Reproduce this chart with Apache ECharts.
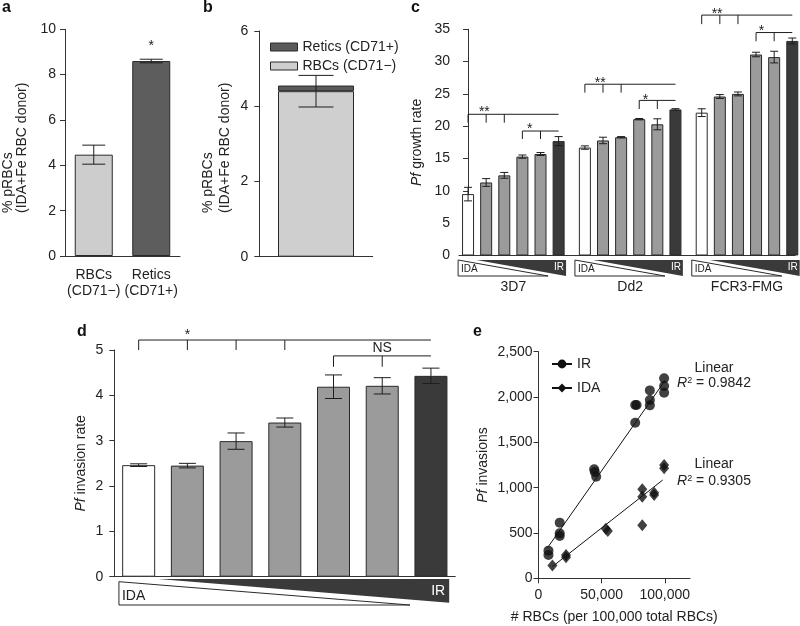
<!DOCTYPE html>
<html>
<head>
<meta charset="utf-8">
<script src="https://cdn.jsdelivr.net/npm/echarts@6/dist/echarts.min.js"></script>
<style>
  html, body { margin: 0; padding: 0; background: #fff; }
  #main { width: 800px; height: 626px; }
</style>
</head>
<body>
<div id="main"></div>
<script>
// ---- panel a: pRBCs by cell type
var aCats = ['RBCs\n(CD71\u2212)', 'Retics\n(CD71+)'];
var aVals = [4.47, 8.6];
var aErr = [0.42, 0.08];

// ---- panel b: stacked share of one donor
var bCats = ['IDA+Fe'];
var bRbc = [4.4];
var bRetic = [0.15];
var bErr = [0.42];

// ---- panel c: growth rate, 3 strains x 6 blends (IDA -> IR)
var cGroups = ['3D7', 'Dd2', 'FCR3-FMG'];
var cVals = [
  [9.5, 11.3, 12.4, 15.3, 15.7, 17.7],
  [16.7, 17.8, 18.3, 21.1, 20.3, 22.6],
  [22.1, 24.6, 25.0, 31.1, 30.7, 33.2]
];
var cErr = [
  [1.05, 0.6, 0.45, 0.25, 0.23, 0.7],
  [0.26, 0.5, 0.1, 0.1, 0.85, 0.12],
  [0.6, 0.3, 0.3, 0.35, 0.9, 0.45]
];

// ---- panel d: invasion rate, 7 blends (IDA -> IR)
var dCats = ['IDA', '2', '3', '4', '5', '6', 'IR'];
var dVals = [2.46, 2.45, 2.99, 3.4, 4.19, 4.21, 4.43];
var dErr = [0.03, 0.05, 0.18, 0.1, 0.26, 0.18, 0.17];

// ---- panel e: invasions vs number of RBCs
var irPts = [
  [7900, 305], [7900, 257], [16800, 614], [16800, 496], [16800, 467],
  [44100, 1202], [44600, 1173], [45700, 1121], [76600, 1912], [77700, 1912],
  [76600, 1717], [88200, 2073], [88200, 1967], [88200, 1908],
  [99500, 2206], [99500, 2121], [99500, 2048]
];
var idaPts = [
  [11000, 140], [21800, 257], [21800, 232], [53300, 548], [54900, 522],
  [82200, 982], [82200, 901], [82200, 585], [91600, 945], [91600, 919],
  [99500, 1250], [99500, 1213]
];
var irFit = [[6800, 330], [100500, 2187]];
var idaFit = [[11000, 129], [98400, 1084]];
var eXTicks = [0, 50000, 100000];

// significance brackets: [from, to, lineY, tickY, ticks]
var cBrackets = [
  [0, 5, 21.85, 20.55, [0, 1, 2]], [3, 5, 19.26, 18.03, [3, 4]],
  [0, 5, 26.5, 25.2, [0, 1, 2]], [3, 5, 24.0, 22.67, [3, 4]],
  [0, 5, 37.2, 35.8, [0, 1, 2]], [3, 5, 34.5, 33.15, [3, 4]]
];
var cMarks = [[0.9, 22.6, '**'], [3.4, 20.0, '*'], [0.85, 27.1, '**'], [3.35, 24.5, '*'], [0.85, 37.8, '**'], [3.3, 35.2, '*']];
var dBrackets = [[0, 6, 5.22, 5.0, [0, 1, 2, 3]], [4, 6, 4.87, 4.63, [4, 5]]];
var dMarks = [[1.42, 5.39, '*'], [4.56, 5.05, 'NS']];

var FONT = '"Liberation Sans", Arial, sans-serif';
var INK = '#222';
var AXIS = '#333';
var WHITE = '#ffffff', GRAY = '#9b9b9b', DARK = '#3a3a3a';
var GROUP_STEP = 6.45;   // x units between strain groups in panel c

function cx(g, i) { return g * GROUP_STEP + i; }
function shade(i, n) { return i === 0 ? WHITE : (i === n - 1 ? DARK : GRAY); }

function yAx(grid, max, interval, extra) {
  return Object.assign({
    type: 'value', gridIndex: grid, min: 0, max: max, interval: interval,
    axisLine: { show: true, lineStyle: { color: AXIS } },
    axisTick: { show: true, length: 5, lineStyle: { color: AXIS } },
    axisLabel: { color: INK, fontSize: 14, margin: 9 },
    splitLine: { show: false }
  }, extra || {});
}

function errorBars(axis, data, cap) {
  return {
    type: 'custom', xAxisIndex: axis, yAxisIndex: axis, z: 4, silent: true,
    data: data,
    renderItem: function (params, api) {
      var lo = api.coord([api.value(0), api.value(1)]);
      var hi = api.coord([api.value(0), api.value(2)]);
      var h = cap / 2;
      var st = { stroke: '#1e1e1e', lineWidth: 1 };
      return { type: 'group', children: [
        { type: 'line', shape: { x1: lo[0], y1: lo[1], x2: hi[0], y2: hi[1] }, style: st },
        { type: 'line', shape: { x1: lo[0] - h, y1: lo[1], x2: lo[0] + h, y2: lo[1] }, style: st },
        { type: 'line', shape: { x1: hi[0] - h, y1: hi[1], x2: hi[0] + h, y2: hi[1] }, style: st }
      ] };
    }
  };
}

function bracketSeries(axis, brackets, offset) {
  var segs = [];
  brackets.forEach(function (b, k) {
    var off = offset ? offset(k) : 0;
    segs.push([b[0] + off, b[2], b[1] + off, b[2]]);
    b[4].forEach(function (t) { segs.push([t + off, b[2], t + off, b[3]]); });
  });
  return {
    type: 'custom', xAxisIndex: axis, yAxisIndex: axis, z: 4, silent: true,
    data: segs,
    renderItem: function (params, api) {
      var p1 = api.coord([api.value(0), api.value(1)]);
      var p2 = api.coord([api.value(2), api.value(3)]);
      return { type: 'line', shape: { x1: p1[0], y1: p1[1], x2: p2[0], y2: p2[1] },
        style: { stroke: '#1e1e1e', lineWidth: 1 } };
    }
  };
}

function markSeries(axis, marks, offset) {
  return {
    type: 'custom', xAxisIndex: axis, yAxisIndex: axis, z: 4, silent: true,
    data: marks.map(function (m, k) { return [m[0] + (offset ? offset(k) : 0), m[1]]; }),
    renderItem: function (params, api) {
      var p = api.coord([api.value(0), api.value(1)]);
      var txt = marks[params.dataIndex][2];
      var star = txt.indexOf('*') >= 0;
      return { type: 'text', x: p[0], y: p[1] + (star ? 3 : 0),
        style: { text: txt, fill: INK, fontSize: 14, fontFamily: FONT, align: 'center', verticalAlign: 'middle' } };
    }
  };
}

// bars
var cBarData = [], cErrData = [];
cVals.forEach(function (vals, g) {
  vals.forEach(function (v, i) {
    cBarData.push({ value: [cx(g, i), v], itemStyle: { color: shade(i, vals.length) } });
    cErrData.push([cx(g, i), v - cErr[g][i], v + cErr[g][i]]);
  });
});
var dBarData = dVals.map(function (v, i) { return { value: v, itemStyle: { color: shade(i, dVals.length) } }; });
var dErrData = dVals.map(function (v, i) { return [i, v - dErr[i], v + dErr[i]]; });
var aBarData = aVals.map(function (v, i) { return { value: v, itemStyle: { color: ['#cdcdcd', '#5d5d5d'][i] } }; });
var aErrData = aVals.map(function (v, i) { return [i, v - aErr[i], v + aErr[i]]; });

var barBorder = { borderColor: '#2a2a2a', borderWidth: 1 };

function triText(x, y, txt, color, size, align, valign) {
  return { type: 'text', x: x, y: y, style: { text: txt, fill: color, fontSize: size, fontFamily: FONT, align: align, verticalAlign: valign } };
}

var option = {
  animation: false,
  textStyle: { fontFamily: FONT, color: INK },
  grid: [
    { left: 65, top: 29.3, width: 115, height: 226.7 },
    { left: 259.3, top: 31, width: 113.4, height: 225.7 },
    { left: 459, top: 29.3, width: 336, height: 226.2 },
    { left: 114.3, top: 350, width: 341, height: 226.7 },
    { left: 538.5, top: 351.7, width: 151.5, height: 226.6 }
  ],
  legend: [
    { data: ['Retics (CD71+)', 'RBCs (CD71\u2212)'], orient: 'vertical', left: 265, top: 35,
      icon: 'rect', itemWidth: 27, itemHeight: 8, itemGap: 5, selectedMode: false,
      itemStyle: { borderColor: '#2a2a2a', borderWidth: 1 },
      textStyle: { fontSize: 14, color: INK, fontFamily: FONT } },
    { data: ['IR', 'IDA'], orient: 'vertical', left: 546, top: 352,
      itemWidth: 20, itemHeight: 11, itemGap: 10, selectedMode: false,
      textStyle: { fontSize: 14, color: INK, fontFamily: FONT } }
  ],
  xAxis: [
    { type: 'category', gridIndex: 0, data: aCats,
      axisLine: { lineStyle: { color: AXIS } },
      axisTick: { alignWithLabel: true, length: 5, lineStyle: { color: AXIS } },
      axisLabel: { color: INK, fontSize: 14, lineHeight: 16, margin: 11, interval: 0, hideOverlap: false } },
    { type: 'category', gridIndex: 1, data: bCats,
      axisLine: { lineStyle: { color: AXIS } }, axisTick: { show: false }, axisLabel: { show: false } },
    { type: 'value', gridIndex: 2, min: -0.5, max: 18.05, splitLine: { show: false },
      axisLine: { show: true, lineStyle: { color: AXIS } }, axisTick: { show: false },
      axisLabel: { color: INK, fontSize: 14, margin: 25,
        customValues: cGroups.map(function (n, g) { return cx(g, 2.5); }),
        formatter: function (v) { return cGroups[Math.round((v - 2.5) / GROUP_STEP)]; } } },
    { type: 'category', gridIndex: 3, data: dCats,
      axisLine: { lineStyle: { color: AXIS } }, axisTick: { show: false }, axisLabel: { show: false } },
    { type: 'value', gridIndex: 4, min: 0, max: 120000, splitLine: { show: false },
      axisLine: { show: true, lineStyle: { color: AXIS } },
      axisTick: { show: true, length: 5, customValues: eXTicks, lineStyle: { color: AXIS } },
      axisLabel: { color: INK, fontSize: 14, margin: 10, customValues: eXTicks,
        formatter: function (v) { return v.toLocaleString('en-US'); } },
      name: '# RBCs (per 100,000 total RBCs)', nameLocation: 'middle', nameGap: 32,
      nameTextStyle: { fontSize: 14, color: INK } }
  ],
  yAxis: [
    yAx(0, 10, 2),
    yAx(1, 6, 2, { axisLabel: { color: INK, fontSize: 14, margin: 11 } }),
    yAx(2, 35, 5, { name: '{i|Pf} growth rate', nameLocation: 'middle', nameRotate: 90, nameGap: 35,
      nameTextStyle: { fontSize: 14, color: INK, rich: { i: { fontStyle: 'italic', fontSize: 14, color: INK } } } }),
    yAx(3, 5, 1, { axisLabel: { color: INK, fontSize: 14, margin: 11 },
      name: '{i|Pf} invasion rate', nameLocation: 'middle', nameRotate: 90, nameGap: 26,
      nameTextStyle: { fontSize: 14, color: INK, rich: { i: { fontStyle: 'italic', fontSize: 14, color: INK } } } }),
    yAx(4, 2500, 500, { axisLabel: { color: INK, fontSize: 14, margin: 6,
        formatter: function (v) { return v.toLocaleString('en-US'); } },
      name: '{i|Pf} invasions', nameLocation: 'middle', nameRotate: 90, nameGap: 48,
      nameTextStyle: { fontSize: 14, color: INK, rich: { i: { fontStyle: 'italic', fontSize: 14, color: INK } } } })
  ],
  series: [
    // a
    { type: 'bar', name: 'a', xAxisIndex: 0, yAxisIndex: 0, barWidth: 38, data: aBarData, itemStyle: barBorder, silent: true },
    errorBars(0, aErrData, 23),
    markSeries(0, [[1, 9.38, '*']]),
    // b
    { type: 'bar', name: 'RBCs (CD71\u2212)', xAxisIndex: 1, yAxisIndex: 1, stack: 'b', barWidth: 76, data: bRbc,
      itemStyle: Object.assign({ color: '#cfcfcf' }, barBorder), silent: true },
    { type: 'bar', name: 'Retics (CD71+)', xAxisIndex: 1, yAxisIndex: 1, stack: 'b', barWidth: 76, data: bRetic,
      itemStyle: Object.assign({ color: '#5a5a5a' }, barBorder), silent: true },
    errorBars(1, bRbc.map(function (v, i) { return [i, v - bErr[i], v + bErr[i]]; }), 35),
    // c
    { type: 'bar', name: 'c', xAxisIndex: 2, yAxisIndex: 2, barWidth: 12, data: cBarData, itemStyle: barBorder, silent: true },
    errorBars(2, cErrData, 8),
    bracketSeries(2, cBrackets, function (k) { return Math.floor(k / 2) * GROUP_STEP; }),
    markSeries(2, cMarks, function (k) { return Math.floor(k / 2) * GROUP_STEP; }),
    { type: 'custom', xAxisIndex: 2, yAxisIndex: 2, silent: true, z: 4,
      data: cGroups.map(function (n, g) { return [g, 0]; }),
      renderItem: function (params, api) {
        var base = api.value(0) * GROUP_STEP;
        var y0 = api.coord([0, 0])[1];
        function X(u) { return api.coord([base + u, 0])[0]; }
        var L = X(-0.55), R = X(5.41), D = X(0.46), W = X(4.42);
        var top = y0 + 4.5, bot = y0 + 20.5;
        return { type: 'group', children: [
          { type: 'polygon', shape: { points: [[L, top], [W, bot], [L, bot]] }, style: { fill: '#fff', stroke: '#2a2a2a', lineWidth: 1 } },
          { type: 'polygon', shape: { points: [[D, top], [R, top], [R, bot]] }, style: { fill: DARK } },
          triText(L + 3, bot - 1.5, 'IDA', INK, 10, 'left', 'bottom'),
          triText(R - 2, top + 2, 'IR', '#fff', 10, 'right', 'top')
        ] };
      } },
    // d
    { type: 'bar', name: 'd', xAxisIndex: 3, yAxisIndex: 3, barWidth: 33, data: dBarData, itemStyle: barBorder, silent: true },
    errorBars(3, dErrData, 17),
    bracketSeries(3, dBrackets),
    markSeries(3, dMarks),
    { type: 'custom', xAxisIndex: 3, yAxisIndex: 3, silent: true, z: 4,
      data: [[0, 0]],
      renderItem: function (params, api) {
        var p0 = api.coord([0, 0]);
        var band = api.size([1, 0])[0];
        function X(u) { return p0[0] + u * band; }
        var L = X(-0.405), R = X(6.375), D = X(0.4), W = X(5.57);
        var y0 = p0[1];
        return { type: 'group', children: [
          { type: 'polygon', shape: { points: [[L, y0 + 5], [W, y0 + 28.3], [L, y0 + 28.3]] }, style: { fill: '#fff', stroke: '#2a2a2a', lineWidth: 1 } },
          { type: 'polygon', shape: { points: [[D, y0 + 2.3], [R, y0 + 2.3], [R, y0 + 26]] }, style: { fill: DARK } },
          triText(L + 3, y0 + 19.5, 'IDA', INK, 14, 'left', 'middle'),
          triText(R - 4, y0 + 14, 'IR', '#fff', 14, 'right', 'middle')
        ] };
      } },
    // e
    { type: 'scatter', name: 'IR points', xAxisIndex: 4, yAxisIndex: 4, data: irPts, symbol: 'circle', symbolSize: 10,
      itemStyle: { color: '#111' }, silent: true },
    { type: 'scatter', name: 'IDA points', xAxisIndex: 4, yAxisIndex: 4, data: idaPts, symbol: 'diamond', symbolSize: [10, 12],
      itemStyle: { color: '#111' }, silent: true },
    { type: 'line', name: 'IR', xAxisIndex: 4, yAxisIndex: 4, data: irFit, symbol: 'circle', showSymbol: false,
      lineStyle: { color: '#111', width: 1 }, itemStyle: { color: '#111' }, silent: true },
    { type: 'line', name: 'IDA', xAxisIndex: 4, yAxisIndex: 4, data: idaFit, symbol: 'diamond', showSymbol: false,
      lineStyle: { color: '#111', width: 1 }, itemStyle: { color: '#111' }, silent: true }
  ],
  graphic: [
    { type: 'text', x: 2, y: 8, style: { text: 'a', fontSize: 16, fontWeight: 'bold', fontFamily: FONT, fill: '#111', verticalAlign: 'middle' } },
    { type: 'text', x: 203, y: 8, style: { text: 'b', fontSize: 16, fontWeight: 'bold', fontFamily: FONT, fill: '#111', verticalAlign: 'middle' } },
    { type: 'text', x: 411, y: 8, style: { text: 'c', fontSize: 16, fontWeight: 'bold', fontFamily: FONT, fill: '#111', verticalAlign: 'middle' } },
    { type: 'text', x: 77, y: 332, style: { text: 'd', fontSize: 16, fontWeight: 'bold', fontFamily: FONT, fill: '#111', verticalAlign: 'middle' } },
    { type: 'text', x: 473, y: 332, style: { text: 'e', fontSize: 16, fontWeight: 'bold', fontFamily: FONT, fill: '#111', verticalAlign: 'middle' } },
    { type: 'text', x: 8.3, y: 213, rotation: Math.PI / 2, style: { text: '% pRBCs', fontSize: 14, fontFamily: FONT, fill: INK, align: 'left', verticalAlign: 'middle' } },
    { type: 'text', x: 22.5, y: 213, rotation: Math.PI / 2, style: { text: '(IDA+Fe RBC donor)', fontSize: 14, fontFamily: FONT, fill: INK, align: 'left', verticalAlign: 'middle' } },
    { type: 'text', x: 208.5, y: 213, rotation: Math.PI / 2, style: { text: '% pRBCs', fontSize: 14, fontFamily: FONT, fill: INK, align: 'left', verticalAlign: 'middle' } },
    { type: 'text', x: 225, y: 213, rotation: Math.PI / 2, style: { text: '(IDA+Fe RBC donor)', fontSize: 14, fontFamily: FONT, fill: INK, align: 'left', verticalAlign: 'middle' } },
    { type: 'text', x: 714, y: 368, style: { text: 'Linear', fontSize: 14, fontFamily: FONT, fill: INK, align: 'center', verticalAlign: 'middle' } },
    { type: 'text', x: 714, y: 383.5, style: { text: '{i|R}{s|2}{n| = 0.9842}', fontFamily: FONT, fill: INK, align: 'center', verticalAlign: 'middle',
      rich: { i: { fontStyle: 'italic', fontSize: 14 }, s: { fontSize: 9, verticalAlign: 'top' }, n: { fontSize: 14 } } } },
    { type: 'text', x: 714, y: 464, style: { text: 'Linear', fontSize: 14, fontFamily: FONT, fill: INK, align: 'center', verticalAlign: 'middle' } },
    { type: 'text', x: 714, y: 481.5, style: { text: '{i|R}{s|2}{n| = 0.9305}', fontFamily: FONT, fill: INK, align: 'center', verticalAlign: 'middle',
      rich: { i: { fontStyle: 'italic', fontSize: 14 }, s: { fontSize: 9, verticalAlign: 'top' }, n: { fontSize: 14 } } } }
  ]
};

var chart = echarts.init(document.getElementById('main'));
chart.setOption(option);
</script>
</body>
</html>
